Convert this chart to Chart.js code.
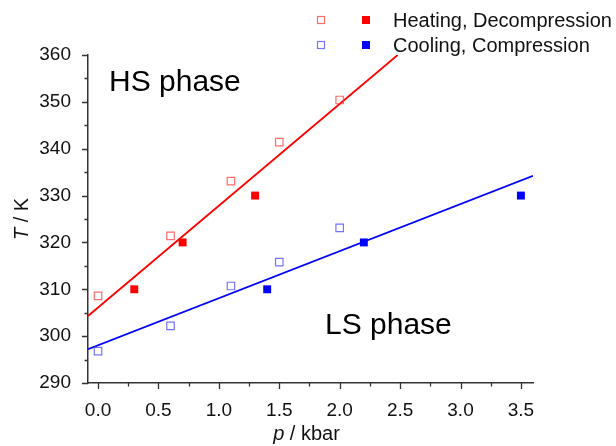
<!DOCTYPE html>
<html>
<head>
<meta charset="utf-8">
<script src="https://cdn.jsdelivr.net/npm/chart.js@4/dist/chart.umd.min.js"></script>
<style>
  html, body { margin: 0; padding: 0; background: #fff; }
  #wrap { width: 616px; height: 446px; }
</style>
</head>
<body>
<div id="wrap"><canvas id="grafico"></canvas></div>
<script>
// Puntos medidos (p en kbar, T en K)
var heatOpenP = [0, 0.6, 1.1, 1.5, 2.0];
var heatOpenT = [308.6, 321.4, 333.1, 341.4, 350.4];
var heatFilledP = [0.3, 0.7, 1.3];
var heatFilledT = [310, 320, 330];
var coolOpenP = [0, 0.6, 1.1, 1.5, 2.0];
var coolOpenT = [296.8, 302.2, 310.7, 315.8, 323.1];
var coolFilledP = [1.4, 2.2, 3.5];
var coolFilledT = [310, 320, 330];

// Rectas de ajuste (extremos)
var heatFitP = [-0.083, 2.48];
var heatFitT = [304.3, 360];
var coolFitP = [-0.083, 3.6];
var coolFitT = [297.2, 334.2];

// Ejes
var xMajorTicks = [0, 0.5, 1.0, 1.5, 2.0, 2.5, 3.0, 3.5];
var xMinorTicks = [0.25, 0.75, 1.25, 1.75, 2.25, 2.75, 3.25];
var yMajorTicks = [290, 300, 310, 320, 330, 340, 350, 360];
var yMinorTicks = [295, 305, 315, 325, 335, 345, 355];

var legendLabels = ['Heating, Decompression', 'Cooling, Compression'];

function pts(xs, ys) {
    return xs.map(function (x, i) { return { x: x, y: ys[i] }; });
}

var RED = '#ff0000';
var BLUE = '#0000ff';
var RED_OPEN = 'rgba(255,60,60,0.75)';
var BLUE_OPEN = 'rgba(70,70,255,0.75)';
var FONT = '"Liberation Sans", Arial, sans-serif';

// Marcas de los ejes, títulos, rótulos de fase y leyenda
var extras = {
    id: 'extras',
    afterDraw: function (chart) {
        var ctx = chart.ctx;
        var xs = chart.scales.x, ys = chart.scales.y;
        var area = chart.chartArea;
        ctx.save();
        ctx.strokeStyle = '#333';
        ctx.lineWidth = 1.3;
        ctx.beginPath();
        xMajorTicks.forEach(function (v) {
            var px = Math.round(xs.getPixelForValue(v)) + 0.5;
            ctx.moveTo(px, area.bottom); ctx.lineTo(px, area.bottom + 6);
        });
        xMinorTicks.forEach(function (v) {
            var px = Math.round(xs.getPixelForValue(v)) + 0.5;
            ctx.moveTo(px, area.bottom); ctx.lineTo(px, area.bottom + 3.5);
        });
        yMajorTicks.forEach(function (v) {
            var py = Math.round(ys.getPixelForValue(v)) + 0.5;
            ctx.moveTo(area.left, py); ctx.lineTo(area.left - 6, py);
        });
        yMinorTicks.forEach(function (v) {
            var py = Math.round(ys.getPixelForValue(v)) + 0.5;
            ctx.moveTo(area.left, py); ctx.lineTo(area.left - 3.5, py);
        });
        ctx.stroke();

        // Títulos de los ejes
        ctx.fillStyle = '#111';
        ctx.textBaseline = 'alphabetic';
        var it = 'italic 20px ' + FONT, rg = '20px ' + FONT;
        ctx.font = it; var wp = ctx.measureText('p').width;
        ctx.font = rg; var wr = ctx.measureText(' / kbar').width;
        var cx = (area.left + area.right) / 2 - 4;
        var sx = cx - (wp + wr) / 2;
        ctx.font = it; ctx.fillText('p', sx, 440);
        ctx.font = rg; ctx.fillText(' / kbar', sx + wp, 440);

        ctx.save();
        ctx.translate(28, (area.top + area.bottom) / 2);
        ctx.rotate(-Math.PI / 2);
        ctx.font = it; var wt = ctx.measureText('T').width;
        ctx.font = rg; var wk = ctx.measureText(' / K').width;
        var sy = -(wt + wk) / 2;
        ctx.font = it; ctx.fillText('T', sy, 0);
        ctx.font = rg; ctx.fillText(' / K', sy + wt, 0);
        ctx.restore();

        // Rótulos de fase
        ctx.font = '30px ' + FONT;
        ctx.fillStyle = '#000';
        ctx.fillText('HS phase', 109, 91);
        ctx.fillText('LS phase', 325, 334);

        // Leyenda
        ctx.font = '20px ' + FONT;
        var rows = [
            { open: RED_OPEN, fill: RED, y: 20 },
            { open: BLUE_OPEN, fill: BLUE, y: 45 }
        ];
        rows.forEach(function (r, i) {
            ctx.strokeStyle = r.open;
            ctx.lineWidth = 1.2;
            ctx.strokeRect(317.5, r.y - 3.5, 7, 7);
            ctx.fillStyle = r.fill;
            ctx.fillRect(362, r.y - 4, 8, 8);
            ctx.fillStyle = '#111';
            ctx.textBaseline = 'middle';
            ctx.fillText(legendLabels[i], 393, r.y + 1);
        });
        ctx.restore();
    }
};

var ctx1 = document.getElementById('grafico').getContext('2d');
var grafico = new Chart(ctx1, {
    type: 'scatter',
    data: {
        datasets: [
            {
                data: pts(heatFitP, heatFitT),
                showLine: true, borderColor: RED, borderWidth: 1.8,
                pointRadius: 0, order: 1
            },
            {
                data: pts(coolFitP, coolFitT),
                showLine: true, borderColor: BLUE, borderWidth: 1.8,
                pointRadius: 0, order: 1
            },
            {
                data: pts(heatOpenP, heatOpenT),
                pointStyle: 'rect', pointRadius: 5.3, borderWidth: 1.2,
                borderColor: RED_OPEN, backgroundColor: 'rgba(0,0,0,0)'
            },
            {
                data: pts(heatFilledP, heatFilledT),
                pointStyle: 'rect', pointRadius: 5.6, borderWidth: 0,
                borderColor: RED, backgroundColor: RED
            },
            {
                data: pts(coolOpenP, coolOpenT),
                pointStyle: 'rect', pointRadius: 5.3, borderWidth: 1.2,
                borderColor: BLUE_OPEN, backgroundColor: 'rgba(0,0,0,0)'
            },
            {
                data: pts(coolFilledP, coolFilledT),
                pointStyle: 'rect', pointRadius: 5.6, borderWidth: 0,
                borderColor: BLUE, backgroundColor: BLUE
            }
        ]
    },
    options: {
        responsive: true,
        maintainAspectRatio: false,
        animation: false,
        layout: { padding: { left: 0, top: 55, right: 83, bottom: 0 } },
        plugins: {
            legend: { display: false },
            tooltip: { enabled: false }
        },
        scales: {
            x: {
                type: 'linear',
                min: -0.083,
                max: 3.6,
                afterBuildTicks: function (scale) {
                    scale.ticks = xMajorTicks.map(function (v) { return { value: v }; });
                },
                afterFit: function (scale) { scale.height = 63; },
                grid: { display: false },
                border: { display: true, color: '#333', width: 1.5 },
                ticks: {
                    padding: 8,
                    color: '#111',
                    font: { family: FONT, size: 19 },
                    maxRotation: 0,
                    callback: function (v) { return Number(v).toFixed(1); }
                }
            },
            y: {
                type: 'linear',
                min: 290,
                max: 360,
                afterBuildTicks: function (scale) {
                    scale.ticks = yMajorTicks.map(function (v) { return { value: v }; });
                },
                afterFit: function (scale) { scale.width = 88; },
                grid: { display: false },
                border: { display: true, color: '#333', width: 1.5 },
                ticks: {
                    padding: 9,
                    color: '#111',
                    font: { family: FONT, size: 19 },
                    callback: function (v) { return String(v); }
                }
            }
        }
    },
    plugins: [extras]
});
</script>
</body>
</html>
